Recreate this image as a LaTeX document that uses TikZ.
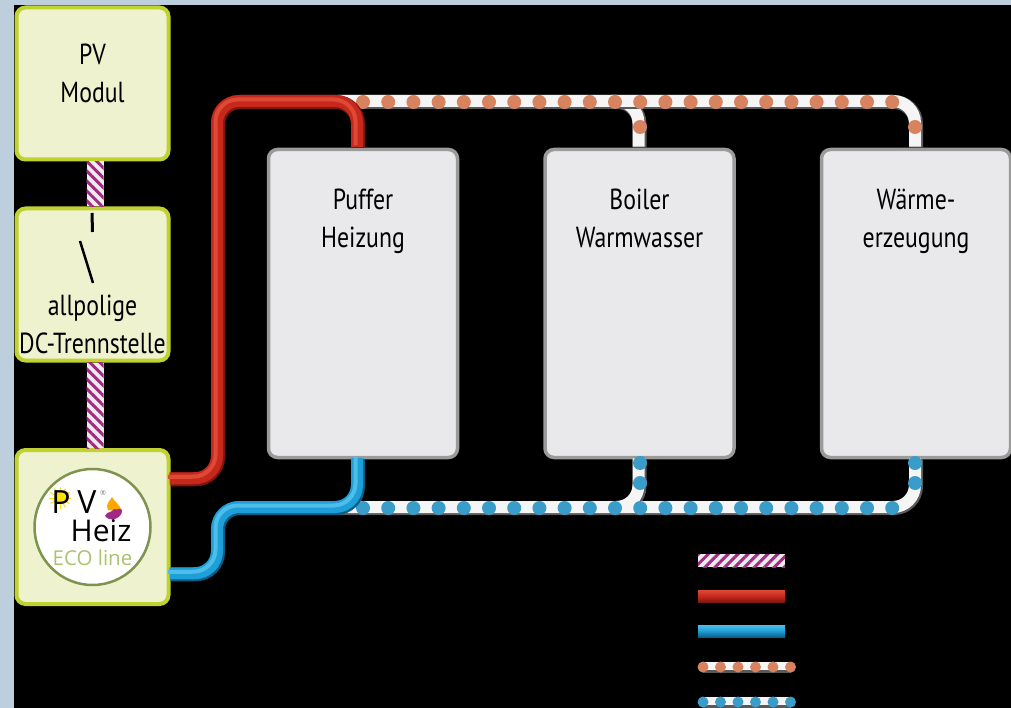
\documentclass[tikz,border=0pt]{standalone}
\usepackage{fontspec}
\setmainfont[FakeStretch=0.82]{PT Sans}
\newfontfamily\logofont{Open Sans}
\usetikzlibrary{positioning,calc,patterns.meta}
\definecolor{framecol}{HTML}{BDCFDC}
\definecolor{greenfill}{HTML}{EEF2CE}
\definecolor{greenline}{HTML}{BFD22F}
\definecolor{greyfill}{HTML}{E9E9EB}
\definecolor{greyline}{HTML}{9B9B9B}
\definecolor{cablecol}{HTML}{A32A84}
\definecolor{hotcol}{HTML}{C8281C}
\definecolor{hotdark}{HTML}{7E1710}
\definecolor{hotlight}{HTML}{DC4A36}
\definecolor{coldcol}{HTML}{1E9FD8}
\definecolor{colddark}{HTML}{0C5E86}
\definecolor{coldlight}{HTML}{4FBDE9}
\definecolor{hotdot}{HTML}{D8835F}
\definecolor{colddot}{HTML}{3A9CC9}
\definecolor{logogreen}{HTML}{A9C46C}
\tikzset{
greenbox/.style={draw=greenline,fill=greenfill,line width=4pt,rounded corners=9pt,minimum width=152pt,minimum height=152pt},
storebox/.style={draw=greyline,fill=greyfill,line width=3.5pt,rounded corners=9pt,minimum width=189pt,minimum height=308pt},
boxtext/.style={align=center,font=\fontsize{29}{38}\selectfont,text=black,inner sep=0pt},
hotpipe/.style={draw=hotdark,line width=14pt,rounded corners=22pt,postaction={draw=hotcol,line width=12pt,transform canvas={xshift=-1pt,yshift=1pt}},postaction={draw=hotlight,line width=4pt,transform canvas={xshift=-2.5pt,yshift=2.5pt}}},
coldpipe/.style={draw=colddark,line width=14pt,rounded corners=22pt,postaction={draw=coldcol,line width=12pt,transform canvas={xshift=-1pt,yshift=1pt}},postaction={draw=coldlight,line width=4pt,transform canvas={xshift=-2.5pt,yshift=2.5pt}}},
whitepipe/.style={draw=gray!70!black,line width=14pt,rounded corners=22pt,postaction={draw=white!92!gray,line width=12pt,transform canvas={xshift=-1pt,yshift=1pt}}},
whitebar/.style={draw=gray!70!black,line width=11pt,line cap=round,postaction={draw=white!92!gray,line width=8pt,line cap=round,transform canvas={yshift=1.5pt}}},
hotbar/.style={top color=hotlight,bottom color=hotdark,middle color=hotcol},
coldbar/.style={top color=coldlight,bottom color=colddark,middle color=coldcol},
stripes/.style={pattern={Lines[angle=#1,distance=7pt,line width=3pt]},pattern color=cablecol},
hotball/.style={fill=hotdot},
coldball/.style={fill=colddot}
}
\begin{document}
\begin{tikzpicture}[x=1pt,y=-1pt]
\useasboundingbox (0,0) rectangle (1011,708);
\fill[framecol] (0,0) rectangle (1011,708);
\fill[black] (14,5) rectangle (1011,708);
% boxes
\node[greenbox] (pv) at (92.5,83.5) {};
\node[greenbox,below=45pt of pv] (switch) {};
\node[greenbox,minimum height=154pt,below=85.5pt of switch] (eco) {};
\node[storebox] (puffer) at (363,303.5) {};
\node[storebox,right=84pt of puffer] (boiler) {};
\node[storebox,right=84pt of boiler] (waerme) {};
% box texts
\node[boxtext,below=38pt of pv.north] (pvtext) {PV\\Modul};
\node[boxtext,below=88pt of switch.north] (switchtext) {allpolige\\DC-Trennstelle};
\node[boxtext,below=41pt of puffer.north] (puffertext) {Puffer\\Heizung};
\node[boxtext,below=41pt of boiler.north] (boilertext) {Boiler\\Warmwasser};
\node[boxtext,below=41pt of waerme.north] (waermetext) {Wärme-\\erzeugung};
% switch symbol
\draw[line width=3pt] (92,213) -- (92.5,232);
\draw[line width=2.5pt] (80,241) -- (93,283);
% dc cable
\fill[white!85!gray] ([xshift=-6pt]pv.south) rectangle ([xshift=11pt]switch.north);
\fill[stripes=-45] ([xshift=-6pt]pv.south) rectangle ([xshift=11pt]switch.north);
\fill[white!85!gray] ([xshift=-6pt]switch.south) rectangle ([xshift=11pt]eco.north);
\fill[stripes=-45] ([xshift=-6pt]switch.south) rectangle ([xshift=11pt]eco.north);
% flow pipes
\coordinate (flowup) at (338,102);
\coordinate (returnup) at (338,508);
\draw[whitepipe] (612,102) -- (boiler.north |- flowup) -- (boiler.north);
\draw[whitepipe] (flowup) -- (waerme.north |- flowup) -- (waerme.north);
\draw[whitepipe] (612,508) -- (boiler.south |- returnup) -- (boiler.south);
\draw[whitepipe] (returnup) -- (waerme.south |- returnup) -- (waerme.south);
\foreach \x in {363,388.2,...,895} {
  \fill[hotball] (\x,102) circle (7);
  \fill[coldball] (\x,508) circle (7);
}
\foreach \x in {640,915} {
  \fill[hotball] (\x,127) circle (7);
  \fill[coldball] (\x,483) circle (7);
  \fill[coldball] (\x,463) circle (7);
}
\coordinate (redbend) at (218,102);
\coordinate (bluebend) at (218,508);
\draw[hotpipe] ([yshift=47.5pt]eco.east) -- (218,479) -- (redbend) -- (358,102) -- (358,148);
\draw[coldpipe] ([yshift=-47.5pt]eco.east) -- (218,574) -- (bluebend) -- (358,508) -- (358,459);
% logo
\node[circle,draw=logogreen!75!black,fill=white,line width=2.5pt,minimum size=116pt] (logo) at (92.5,527) {};
\fill[yellow!85!orange] (60,498) circle (6);
\foreach \a in {0,30,...,330} {
  \draw[yellow!85!orange,line width=1pt] (60,498) -- +(\a:11);
}
\node[font=\logofont\fontsize{32}{32}\selectfont,inner sep=0pt] (logop) at (61,502) {P};
\node[font=\logofont\fontsize{32}{32}\selectfont,inner sep=0pt] (logov) at (87,502) {V};
\node[font=\logofont\fontsize{7}{7}\selectfont,text=gray,inner sep=0pt] (logor) at (103,493) {®};
\node[font=\logofont\fontsize{30}{30}\selectfont,inner sep=0pt] (logoheiz) at (101,531) {Heiz};
\node[font=\logofont\fontsize{20.5}{20.5}\selectfont,text=logogreen,inner sep=0pt] (logoeco) at (92.5,558) {ECO line};
\fill[orange!70!yellow] (108,510) .. controls (105,503) and (111,500) .. (112,497) .. controls (114,502) and (122,505) .. (121,512) -- cycle;
\fill[cablecol] (105,516) .. controls (107,511) and (112,513) .. (114,509) .. controls (117,511) and (122,506) .. (122,511) .. controls (122,518) and (110,523) .. (105,516) -- cycle;
% legend
\coordinate (legcable) at (698,554);
\fill[white!85!gray] (legcable) rectangle (785,567);
\fill[stripes=45] (legcable) rectangle (785,567);
\coordinate (leghot) at (698,590);
\coordinate (legcold) at (698,625);
\coordinate (leghotdot) at (704,667);
\coordinate (legcolddot) at (704,702);
\shade[hotbar] (leghot) rectangle (785,602);
\shade[coldbar] (legcold) rectangle (785,637);
\draw[whitebar] (leghotdot) -- (790,667);
\draw[whitebar] (legcolddot) -- (790,702);
\foreach \x in {703,720.5,...,791} {
  \fill[hotball] (\x,667) circle (5.5);
  \fill[coldball] (\x,702) circle (5.5);
}
\end{tikzpicture}
\end{document}
